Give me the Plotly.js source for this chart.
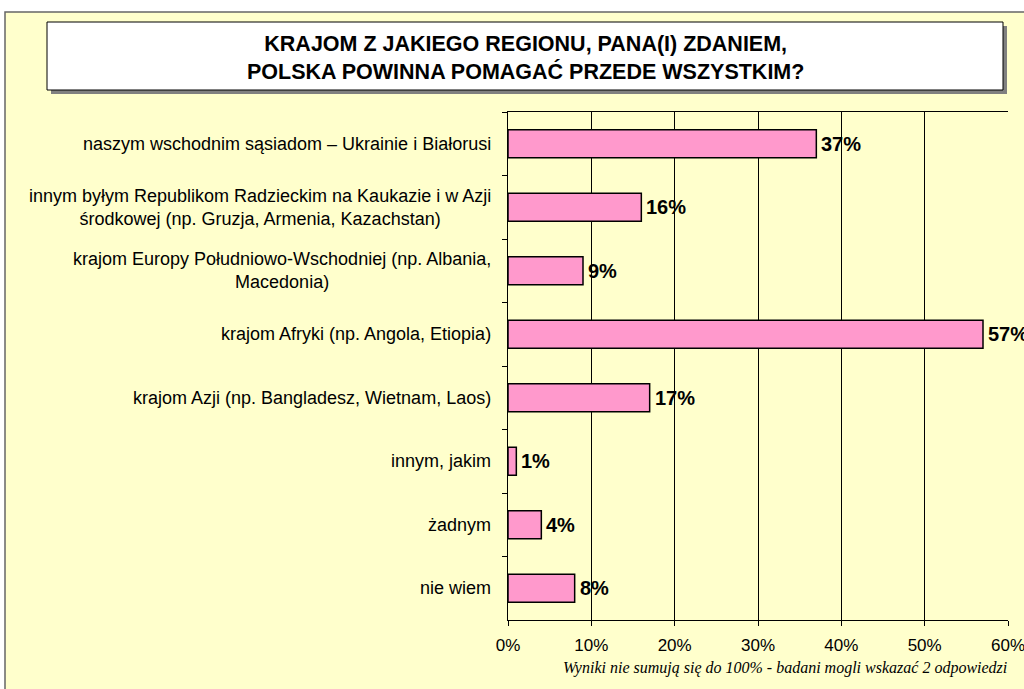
<!DOCTYPE html>
<html><head><meta charset="utf-8">
<script src="https://cdn.plot.ly/plotly-3.0.1.min.js"></script>
<style>html,body{margin:0;padding:0;background:#fff}</style>
</head><body>
<div id="chart" style="width:1024px;height:689px"></div>
<script>
var categories = [
  "naszym wschodnim sąsiadom – Ukrainie i Białorusi",
  "innym byłym Republikom Radzieckim na Kaukazie i w Azji<br>środkowej (np. Gruzja, Armenia, Kazachstan)",
  "krajom Europy Południowo-Wschodniej (np. Albania,<br>Macedonia)",
  "krajom Afryki (np. Angola, Etiopia)",
  "krajom Azji (np. Bangladesz, Wietnam, Laos)",
  "innym, jakim",
  "żadnym",
  "nie wiem"
];
var values = [37, 16, 9, 57, 17, 1, 4, 8];
var tickVals = [0, 10, 20, 30, 40, 50, 60];
var tickLabels = ["0%", "10%", "20%", "30%", "40%", "50%", "60%"];
var titleText = "KRAJOM Z JAKIEGO REGIONU, PANA(I) ZDANIEM,<br>POLSKA POWINNA POMAGAĆ PRZEDE WSZYSTKIM?";
var footnote = "Wyniki nie sumują się do 100% - badani mogli wskazać 2 odpowiedzi";

var W = 1024, H = 689, L = 508, R = 16, T = 112, B = 69;
function px(x){ return (x - L) / (W - L - R); }
function py(y){ return (H - B - y) / (H - T - B); }

var annotations = [];
categories.forEach(function(c, i){
  annotations.push({xref:'paper', yref:'y', x: px(493), y: c, xanchor:'right', yanchor:'middle',
    text: c, showarrow:false, align:'center', font:{family:'Liberation Sans, Arial', size:18, color:'#000'}});
  annotations.push({xref:'x', yref:'y', x: values[i], y: c, xanchor:'left', yanchor:'middle', xshift:3,
    text: values[i] + '%', showarrow:false, font:{family:'Liberation Sans, Arial', size:20, color:'#000', weight:'bold'}});
});
annotations.push({xref:'paper', yref:'paper', x: px(785), y: py(668), xanchor:'center', yanchor:'middle',
  text: '<i>' + footnote + '</i>', showarrow:false, font:{family:'Liberation Serif, Times New Roman', size:16, color:'#000'}});
annotations.push({xref:'paper', yref:'paper', x: px(525), y: py(58), xanchor:'center', yanchor:'middle',
  text: '<b>' + titleText + '</b>', showarrow:false, font:{family:'Liberation Sans, Arial', size:21.5, color:'#000'}});

var shapes = [
  {type:'rect', xref:'paper', yref:'paper', x0: px(5), x1: px(1040), y0: py(12), y1: py(700), layer:'below',
    fillcolor:'#FFFFCC', line:{color:'#666', width:1.5}},
  {type:'rect', xref:'paper', yref:'paper', x0: px(51), x1: px(1007), y0: py(26), y1: py(94), layer:'below',
    fillcolor:'#808080', line:{width:0}},
  {type:'rect', xref:'paper', yref:'paper', x0: px(47), x1: px(1003), y0: py(22), y1: py(90), layer:'below',
    fillcolor:'#FFFFFF', line:{color:'#000', width:1}}
];

var trace = {
  type:'bar', orientation:'h', x: values, y: categories,
  marker:{color:'#FF99CC', line:{color:'#000', width:1.5}},
  width: 0.44, hoverinfo:'none'
};

var layout = {
  width: W, height: H,
  margin:{l:L, r:R, t:T, b:B, pad:0},
  paper_bgcolor:'#FFFFFF', plot_bgcolor:'#FFFFFF',
  showlegend:false,
  xaxis:{range:[0,60], tickvals: tickVals, ticktext: tickLabels, showgrid:true, gridcolor:'#000', gridwidth:1,
    zeroline:false, showline:true, linecolor:'#000', linewidth:1, mirror:true,
    ticks:'outside', ticklen:5, tickcolor:'#000', ticklabelstandoff:5, ticklabeloverflow:'allow',
    tickfont:{family:'Liberation Sans, Arial', size:17, color:'#000'}},
  yaxis:{type:'category', autorange:'reversed', showticklabels:false, showgrid:false, zeroline:false,
    showline:true, linecolor:'#000', linewidth:1, ticks:'outside', tickson:'boundaries', ticklen:5, tickcolor:'#000'},
  annotations: annotations,
  shapes: shapes
};

Plotly.newPlot('chart', [trace], layout, {displayModeBar:false, staticPlot:true});
</script>
</body></html>
